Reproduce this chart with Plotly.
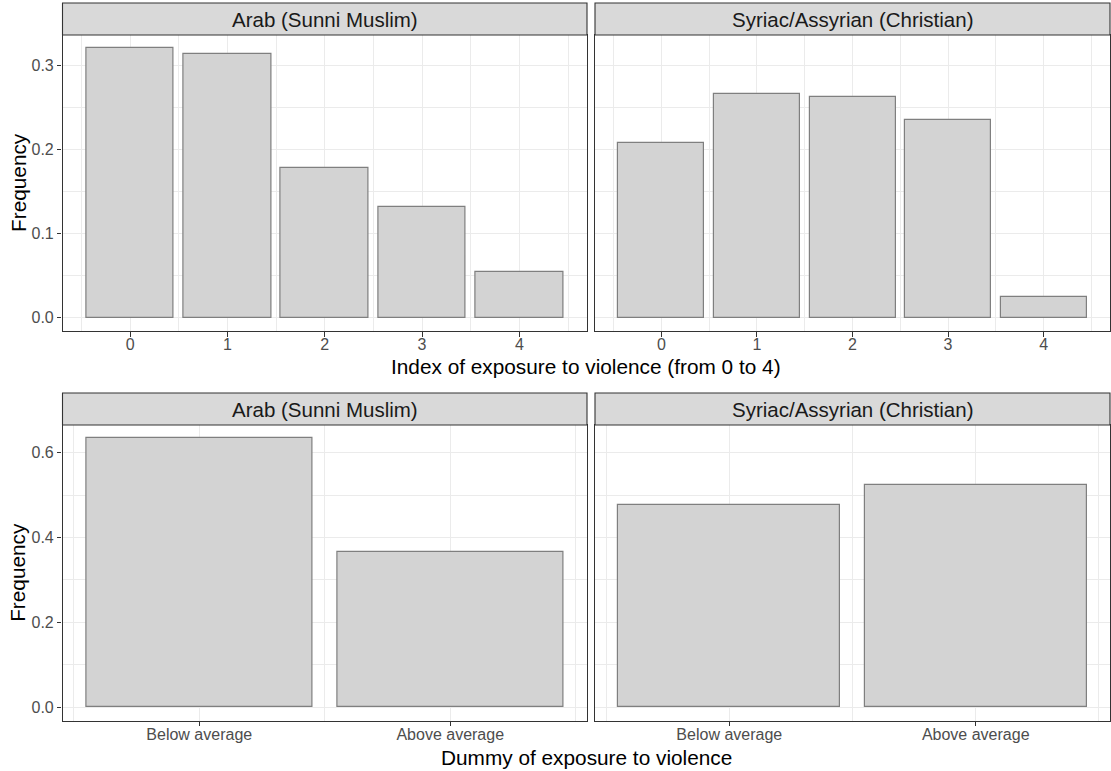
import plotly.graph_objects as go

# Frequencies by group for the 0-4 exposure index
index_levels = [0, 1, 2, 3, 4]
arab_index_freq = [0.3203, 0.3140, 0.1785, 0.1320, 0.0545]
syriac_index_freq = [0.2080, 0.2665, 0.2630, 0.2355, 0.0245]

# Frequencies by group for the below/above-average dummy
dummy_positions = [1, 2]
dummy_labels = ["Below average", "Above average"]
arab_dummy_freq = [0.6336, 0.3654]
syriac_dummy_freq = [0.4760, 0.5240]

group_labels = ["Arab (Sunni Muslim)", "Syriac/Assyrian (Christian)"]

W, H = 1111, 771
FONT = "Liberation Sans, Arial, Helvetica, sans-serif"
BAR_FILL = "#D3D3D3"
BAR_LINE = "#7F7F7F"
GRID = "#EBEBEB"
BORDER = "#333333"
TICK_TXT = "#4D4D4D"

# panel boxes in pixels (left, right, top, bottom)
x_left = (62.5, 587.0)
x_right = (595.0, 1110.0)
top_rows = (35.0, 331.0)
bot_rows = (425.0, 720.7)
strip_h = 32.0


def px_x(v):
    return v / W


def px_y(v):
    return 1 - v / H


fig = go.Figure()


def add_bars(xs, ys, xa, ya):
    fig.add_trace(go.Bar(
        x=xs, y=ys, width=0.9, xaxis=xa, yaxis=ya,
        marker=dict(color=BAR_FILL, line=dict(color=BAR_LINE, width=1.2)),
        showlegend=False, hoverinfo="x+y",
    ))


add_bars(index_levels, arab_index_freq, "x", "y")
add_bars(index_levels, syriac_index_freq, "x2", "y2")
add_bars(dummy_positions, arab_dummy_freq, "x3", "y3")
add_bars(dummy_positions, syriac_dummy_freq, "x4", "y4")


def expand(lo, hi, mult=0.05):
    pad = (hi - lo) * mult
    return [lo - pad, hi + pad]


top_x_range = expand(min(index_levels) - 0.45, max(index_levels) + 0.45)
bot_x_range = expand(min(dummy_positions) - 0.45, max(dummy_positions) + 0.45)
top_y_max = max(arab_index_freq + syriac_index_freq)
bot_y_max = max(arab_dummy_freq + syriac_dummy_freq)
top_y_range = expand(0, top_y_max)
bot_y_range = expand(0, bot_y_max)

tick_font = dict(family=FONT, size=16, color=TICK_TXT)
common_axis = dict(
    showline=True, mirror=True, linecolor=BORDER, linewidth=1.1,
    showgrid=True, gridcolor=GRID, gridwidth=1.1, zeroline=False,
    tickfont=tick_font, tickcolor=BORDER, ticklen=4.5, tickwidth=1.1,
)

top_minor_x = [v + 0.5 for v in [-1] + index_levels]
bot_minor_x = [0.5, 1.5, 2.5]

layout_axes = {}
for name, dom, anchor in [("xaxis", x_left, "y"), ("xaxis2", x_right, "y2")]:
    layout_axes[name] = dict(
        common_axis, domain=[px_x(dom[0]), px_x(dom[1])], range=top_x_range,
        tickmode="array", tickvals=index_levels, ticktext=[str(v) for v in index_levels],
        ticks="outside", ticklabelstandoff=-6,
        minor=dict(tickmode="array", tickvals=top_minor_x, showgrid=True,
                   gridcolor=GRID, gridwidth=0.6, ticks=""),
        anchor=anchor,
    )
for name, dom, anchor in [("xaxis3", x_left, "y3"), ("xaxis4", x_right, "y4")]:
    layout_axes[name] = dict(
        common_axis, domain=[px_x(dom[0]), px_x(dom[1])], range=bot_x_range,
        tickmode="array", tickvals=dummy_positions, ticktext=dummy_labels,
        ticks="outside", ticklabelstandoff=-5,
        minor=dict(tickmode="array", tickvals=bot_minor_x, showgrid=True,
                   gridcolor=GRID, gridwidth=0.6, ticks=""),
        anchor=anchor,
    )

top_major_y = [0.0, 0.1, 0.2, 0.3]
top_minor_y = [0.05, 0.15, 0.25, 0.35]
bot_major_y = [0.0, 0.2, 0.4, 0.6]
bot_minor_y = [0.1, 0.3, 0.5]

for name, xa, rows, rng, major, minor, left in [
    ("yaxis", "x", top_rows, top_y_range, top_major_y, top_minor_y, True),
    ("yaxis2", "x2", top_rows, top_y_range, top_major_y, top_minor_y, False),
    ("yaxis3", "x3", bot_rows, bot_y_range, bot_major_y, bot_minor_y, True),
    ("yaxis4", "x4", bot_rows, bot_y_range, bot_major_y, bot_minor_y, False),
]:
    layout_axes[name] = dict(
        common_axis, domain=[px_y(rows[1]), px_y(rows[0])], range=rng,
        tickmode="array", tickvals=major, ticktext=[f"{v:.1f}" for v in major],
        ticks="outside" if left else "", showticklabels=left,
        minor=dict(tickmode="array", tickvals=minor, showgrid=True,
                   gridcolor=GRID, gridwidth=0.6, ticks=""),
        anchor=xa,
    )

shapes = []
annotations = []

# facet strips
for rows in (top_rows, bot_rows):
    for cols, label in zip((x_left, x_right), group_labels):
        y0 = rows[0] - strip_h
        shapes.append(dict(
            type="rect", xref="paper", yref="paper",
            x0=px_x(cols[0]), x1=px_x(cols[1]), y0=px_y(rows[0]), y1=px_y(y0),
            fillcolor="#D9D9D9", line=dict(color=BORDER, width=1.1), layer="above",
        ))
        annotations.append(dict(
            xref="paper", yref="paper", x=px_x((cols[0] + cols[1]) / 2),
            y=px_y((rows[0] + y0) / 2), text=label, showarrow=False,
            xanchor="center", yanchor="middle",
            font=dict(family=FONT, size=20.5, color="#1A1A1A"),
        ))

# axis titles
title_font = dict(family=FONT, size=20.8, color="#000000")
for rows in (top_rows, bot_rows):
    annotations.append(dict(
        xref="paper", yref="paper", x=px_x(18), y=px_y((rows[0] + rows[1]) / 2),
        text="Frequency", textangle=-90, showarrow=False,
        xanchor="center", yanchor="middle", font=title_font,
    ))
annotations.append(dict(
    xref="paper", yref="paper", x=px_x((x_left[0] + x_right[1]) / 2), y=px_y(366),
    text="Index of exposure to violence (from 0 to 4)", showarrow=False,
    xanchor="center", yanchor="middle", font=title_font,
))
annotations.append(dict(
    xref="paper", yref="paper", x=px_x((x_left[0] + x_right[1]) / 2), y=px_y(757),
    text="Dummy of exposure to violence", showarrow=False,
    xanchor="center", yanchor="middle", font=title_font,
))

fig.update_layout(
    width=W, height=H, margin=dict(l=0, r=0, t=0, b=0),
    paper_bgcolor="white", plot_bgcolor="white",
    bargap=0, shapes=shapes, annotations=annotations,
    font=dict(family=FONT),
    **layout_axes,
)

fig.write_html("out.html")
